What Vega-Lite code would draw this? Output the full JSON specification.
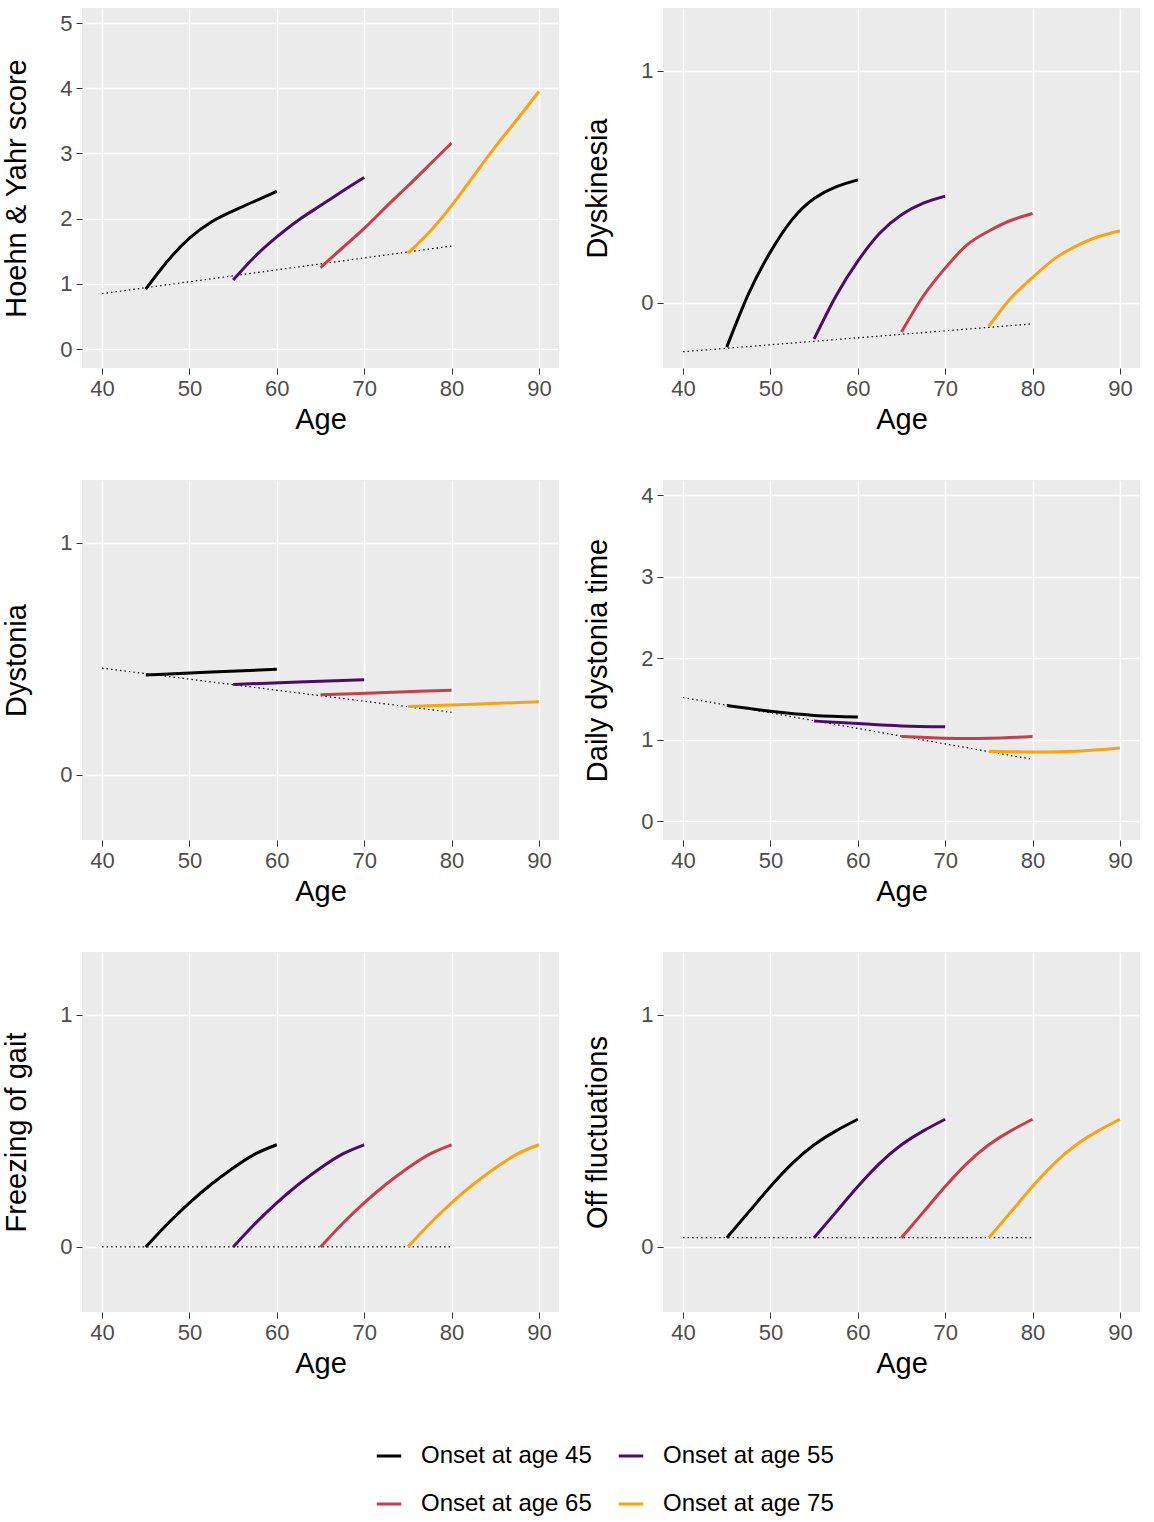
{
  "$schema": "https://vega.github.io/schema/vega-lite/v6.json",
  "background": "white",
  "padding": {"left": 2, "top": 8, "right": 10, "bottom": 5},
  "datasets": {
    "rows": [
      {"panel": "hy", "series": "base", "age": 40, "value": 0.85},
      {"panel": "hy", "series": "base", "age": 80, "value": 1.58},
      {"panel": "hy", "series": "Onset at age 45", "age": 45, "value": 0.92},
      {"panel": "hy", "series": "Onset at age 45", "age": 47.5, "value": 1.35},
      {"panel": "hy", "series": "Onset at age 45", "age": 50, "value": 1.7},
      {"panel": "hy", "series": "Onset at age 45", "age": 52.5, "value": 1.95},
      {"panel": "hy", "series": "Onset at age 45", "age": 55, "value": 2.12},
      {"panel": "hy", "series": "Onset at age 45", "age": 57.5, "value": 2.27},
      {"panel": "hy", "series": "Onset at age 45", "age": 60, "value": 2.42},
      {"panel": "hy", "series": "Onset at age 55", "age": 55, "value": 1.06},
      {"panel": "hy", "series": "Onset at age 55", "age": 57.5, "value": 1.42},
      {"panel": "hy", "series": "Onset at age 55", "age": 60, "value": 1.72},
      {"panel": "hy", "series": "Onset at age 55", "age": 62.5, "value": 1.98},
      {"panel": "hy", "series": "Onset at age 55", "age": 65, "value": 2.2},
      {"panel": "hy", "series": "Onset at age 55", "age": 67.5, "value": 2.42},
      {"panel": "hy", "series": "Onset at age 55", "age": 70, "value": 2.63},
      {"panel": "hy", "series": "Onset at age 65", "age": 65, "value": 1.25},
      {"panel": "hy", "series": "Onset at age 65", "age": 67.5, "value": 1.55},
      {"panel": "hy", "series": "Onset at age 65", "age": 70, "value": 1.85},
      {"panel": "hy", "series": "Onset at age 65", "age": 72.5, "value": 2.18},
      {"panel": "hy", "series": "Onset at age 65", "age": 75, "value": 2.5},
      {"panel": "hy", "series": "Onset at age 65", "age": 77.5, "value": 2.83},
      {"panel": "hy", "series": "Onset at age 65", "age": 80, "value": 3.16},
      {"panel": "hy", "series": "Onset at age 75", "age": 75, "value": 1.47},
      {"panel": "hy", "series": "Onset at age 75", "age": 77.5, "value": 1.8},
      {"panel": "hy", "series": "Onset at age 75", "age": 80, "value": 2.2},
      {"panel": "hy", "series": "Onset at age 75", "age": 82.5, "value": 2.65},
      {"panel": "hy", "series": "Onset at age 75", "age": 85, "value": 3.1},
      {"panel": "hy", "series": "Onset at age 75", "age": 87.5, "value": 3.52},
      {"panel": "hy", "series": "Onset at age 75", "age": 90, "value": 3.95},

      {"panel": "dysk", "series": "base", "age": 40, "value": -0.21},
      {"panel": "dysk", "series": "base", "age": 80, "value": -0.09},
      {"panel": "dysk", "series": "Onset at age 45", "age": 45, "value": -0.19},
      {"panel": "dysk", "series": "Onset at age 45", "age": 47.5, "value": 0.04},
      {"panel": "dysk", "series": "Onset at age 45", "age": 50, "value": 0.22},
      {"panel": "dysk", "series": "Onset at age 45", "age": 52.5, "value": 0.36},
      {"panel": "dysk", "series": "Onset at age 45", "age": 55, "value": 0.45},
      {"panel": "dysk", "series": "Onset at age 45", "age": 57.5, "value": 0.5},
      {"panel": "dysk", "series": "Onset at age 45", "age": 60, "value": 0.53},
      {"panel": "dysk", "series": "Onset at age 55", "age": 55, "value": -0.155},
      {"panel": "dysk", "series": "Onset at age 55", "age": 57.5, "value": 0.03},
      {"panel": "dysk", "series": "Onset at age 55", "age": 60, "value": 0.18},
      {"panel": "dysk", "series": "Onset at age 55", "age": 62.5, "value": 0.3},
      {"panel": "dysk", "series": "Onset at age 55", "age": 65, "value": 0.38},
      {"panel": "dysk", "series": "Onset at age 55", "age": 67.5, "value": 0.43},
      {"panel": "dysk", "series": "Onset at age 55", "age": 70, "value": 0.46},
      {"panel": "dysk", "series": "Onset at age 65", "age": 65, "value": -0.125},
      {"panel": "dysk", "series": "Onset at age 65", "age": 67.5, "value": 0.03},
      {"panel": "dysk", "series": "Onset at age 65", "age": 70, "value": 0.15},
      {"panel": "dysk", "series": "Onset at age 65", "age": 72.5, "value": 0.25},
      {"panel": "dysk", "series": "Onset at age 65", "age": 75, "value": 0.31},
      {"panel": "dysk", "series": "Onset at age 65", "age": 77.5, "value": 0.355},
      {"panel": "dysk", "series": "Onset at age 65", "age": 80, "value": 0.385},
      {"panel": "dysk", "series": "Onset at age 75", "age": 75, "value": -0.1},
      {"panel": "dysk", "series": "Onset at age 75", "age": 77.5, "value": 0.02},
      {"panel": "dysk", "series": "Onset at age 75", "age": 80, "value": 0.11},
      {"panel": "dysk", "series": "Onset at age 75", "age": 82.5, "value": 0.19},
      {"panel": "dysk", "series": "Onset at age 75", "age": 85, "value": 0.245},
      {"panel": "dysk", "series": "Onset at age 75", "age": 87.5, "value": 0.285},
      {"panel": "dysk", "series": "Onset at age 75", "age": 90, "value": 0.31},

      {"panel": "dyst", "series": "base", "age": 40, "value": 0.46},
      {"panel": "dyst", "series": "base", "age": 80, "value": 0.27},
      {"panel": "dyst", "series": "Onset at age 45", "age": 45, "value": 0.43},
      {"panel": "dyst", "series": "Onset at age 45", "age": 52.5, "value": 0.443},
      {"panel": "dyst", "series": "Onset at age 45", "age": 60, "value": 0.455},
      {"panel": "dyst", "series": "Onset at age 55", "age": 55, "value": 0.39},
      {"panel": "dyst", "series": "Onset at age 55", "age": 62.5, "value": 0.4},
      {"panel": "dyst", "series": "Onset at age 55", "age": 70, "value": 0.41},
      {"panel": "dyst", "series": "Onset at age 65", "age": 65, "value": 0.345},
      {"panel": "dyst", "series": "Onset at age 65", "age": 72.5, "value": 0.355},
      {"panel": "dyst", "series": "Onset at age 65", "age": 80, "value": 0.365},
      {"panel": "dyst", "series": "Onset at age 75", "age": 75, "value": 0.295},
      {"panel": "dyst", "series": "Onset at age 75", "age": 82.5, "value": 0.305},
      {"panel": "dyst", "series": "Onset at age 75", "age": 90, "value": 0.315},

      {"panel": "ddt", "series": "base", "age": 40, "value": 1.52},
      {"panel": "ddt", "series": "base", "age": 80, "value": 0.76},
      {"panel": "ddt", "series": "Onset at age 45", "age": 45, "value": 1.42},
      {"panel": "ddt", "series": "Onset at age 45", "age": 50, "value": 1.35},
      {"panel": "ddt", "series": "Onset at age 45", "age": 55, "value": 1.3},
      {"panel": "ddt", "series": "Onset at age 45", "age": 60, "value": 1.28},
      {"panel": "ddt", "series": "Onset at age 55", "age": 55, "value": 1.23},
      {"panel": "ddt", "series": "Onset at age 55", "age": 60, "value": 1.2},
      {"panel": "ddt", "series": "Onset at age 55", "age": 65, "value": 1.17},
      {"panel": "ddt", "series": "Onset at age 55", "age": 70, "value": 1.16},
      {"panel": "ddt", "series": "Onset at age 65", "age": 65, "value": 1.04},
      {"panel": "ddt", "series": "Onset at age 65", "age": 70, "value": 1.02},
      {"panel": "ddt", "series": "Onset at age 65", "age": 75, "value": 1.02},
      {"panel": "ddt", "series": "Onset at age 65", "age": 80, "value": 1.04},
      {"panel": "ddt", "series": "Onset at age 75", "age": 75, "value": 0.86},
      {"panel": "ddt", "series": "Onset at age 75", "age": 80, "value": 0.85},
      {"panel": "ddt", "series": "Onset at age 75", "age": 85, "value": 0.86},
      {"panel": "ddt", "series": "Onset at age 75", "age": 90, "value": 0.9},

      {"panel": "fog", "series": "base", "age": 40, "value": 0},
      {"panel": "fog", "series": "base", "age": 80, "value": 0},
      {"panel": "fog", "series": "Onset at age 45", "age": 45, "value": 0},
      {"panel": "fog", "series": "Onset at age 45", "age": 47.5, "value": 0.1},
      {"panel": "fog", "series": "Onset at age 45", "age": 50, "value": 0.19},
      {"panel": "fog", "series": "Onset at age 45", "age": 52.5, "value": 0.27},
      {"panel": "fog", "series": "Onset at age 45", "age": 55, "value": 0.34},
      {"panel": "fog", "series": "Onset at age 45", "age": 57.5, "value": 0.4},
      {"panel": "fog", "series": "Onset at age 45", "age": 60, "value": 0.44},
      {"panel": "fog", "series": "Onset at age 55", "age": 55, "value": 0},
      {"panel": "fog", "series": "Onset at age 55", "age": 57.5, "value": 0.1},
      {"panel": "fog", "series": "Onset at age 55", "age": 60, "value": 0.19},
      {"panel": "fog", "series": "Onset at age 55", "age": 62.5, "value": 0.27},
      {"panel": "fog", "series": "Onset at age 55", "age": 65, "value": 0.34},
      {"panel": "fog", "series": "Onset at age 55", "age": 67.5, "value": 0.4},
      {"panel": "fog", "series": "Onset at age 55", "age": 70, "value": 0.44},
      {"panel": "fog", "series": "Onset at age 65", "age": 65, "value": 0},
      {"panel": "fog", "series": "Onset at age 65", "age": 67.5, "value": 0.1},
      {"panel": "fog", "series": "Onset at age 65", "age": 70, "value": 0.19},
      {"panel": "fog", "series": "Onset at age 65", "age": 72.5, "value": 0.27},
      {"panel": "fog", "series": "Onset at age 65", "age": 75, "value": 0.34},
      {"panel": "fog", "series": "Onset at age 65", "age": 77.5, "value": 0.4},
      {"panel": "fog", "series": "Onset at age 65", "age": 80, "value": 0.44},
      {"panel": "fog", "series": "Onset at age 75", "age": 75, "value": 0},
      {"panel": "fog", "series": "Onset at age 75", "age": 77.5, "value": 0.1},
      {"panel": "fog", "series": "Onset at age 75", "age": 80, "value": 0.19},
      {"panel": "fog", "series": "Onset at age 75", "age": 82.5, "value": 0.27},
      {"panel": "fog", "series": "Onset at age 75", "age": 85, "value": 0.34},
      {"panel": "fog", "series": "Onset at age 75", "age": 87.5, "value": 0.4},
      {"panel": "fog", "series": "Onset at age 75", "age": 90, "value": 0.44},

      {"panel": "off", "series": "base", "age": 40, "value": 0.04},
      {"panel": "off", "series": "base", "age": 80, "value": 0.04},
      {"panel": "off", "series": "Onset at age 45", "age": 45, "value": 0.04},
      {"panel": "off", "series": "Onset at age 45", "age": 47.5, "value": 0.15},
      {"panel": "off", "series": "Onset at age 45", "age": 50, "value": 0.26},
      {"panel": "off", "series": "Onset at age 45", "age": 52.5, "value": 0.36},
      {"panel": "off", "series": "Onset at age 45", "age": 55, "value": 0.44},
      {"panel": "off", "series": "Onset at age 45", "age": 57.5, "value": 0.5},
      {"panel": "off", "series": "Onset at age 45", "age": 60, "value": 0.55},
      {"panel": "off", "series": "Onset at age 55", "age": 55, "value": 0.04},
      {"panel": "off", "series": "Onset at age 55", "age": 57.5, "value": 0.15},
      {"panel": "off", "series": "Onset at age 55", "age": 60, "value": 0.26},
      {"panel": "off", "series": "Onset at age 55", "age": 62.5, "value": 0.36},
      {"panel": "off", "series": "Onset at age 55", "age": 65, "value": 0.44},
      {"panel": "off", "series": "Onset at age 55", "age": 67.5, "value": 0.5},
      {"panel": "off", "series": "Onset at age 55", "age": 70, "value": 0.55},
      {"panel": "off", "series": "Onset at age 65", "age": 65, "value": 0.04},
      {"panel": "off", "series": "Onset at age 65", "age": 67.5, "value": 0.15},
      {"panel": "off", "series": "Onset at age 65", "age": 70, "value": 0.26},
      {"panel": "off", "series": "Onset at age 65", "age": 72.5, "value": 0.36},
      {"panel": "off", "series": "Onset at age 65", "age": 75, "value": 0.44},
      {"panel": "off", "series": "Onset at age 65", "age": 77.5, "value": 0.5},
      {"panel": "off", "series": "Onset at age 65", "age": 80, "value": 0.55},
      {"panel": "off", "series": "Onset at age 75", "age": 75, "value": 0.04},
      {"panel": "off", "series": "Onset at age 75", "age": 77.5, "value": 0.15},
      {"panel": "off", "series": "Onset at age 75", "age": 80, "value": 0.26},
      {"panel": "off", "series": "Onset at age 75", "age": 82.5, "value": 0.36},
      {"panel": "off", "series": "Onset at age 75", "age": 85, "value": 0.44},
      {"panel": "off", "series": "Onset at age 75", "age": 87.5, "value": 0.5},
      {"panel": "off", "series": "Onset at age 75", "age": 90, "value": 0.55}
    ]
  },
  "data": {"name": "rows"},
  "spacing": 46,
  "vconcat": [
    {"spacing": 24, "hconcat": [
      {"width": 477, "height": 360, "transform": [{"filter": "datum.panel == 'hy'"}],
       "layer": [
        {"transform": [{"filter": "datum.series == 'base'"}], "mark": {"type": "line", "color": "black", "strokeWidth": 1.2, "strokeDash": [1.5, 3]},
         "encoding": {"x": {"field": "age", "type": "quantitative", "scale": {"domain": [37.7, 92.3], "nice": false, "zero": false}, "axis": {"values": [40, 50, 60, 70, 80, 90], "title": "Age"}},
                      "y": {"field": "value", "type": "quantitative", "scale": {"domain": [-0.29, 5.23], "nice": false, "zero": false}, "axis": {"values": [0, 1, 2, 3, 4, 5], "title": "Hoehn & Yahr score"}}}},
        {"transform": [{"filter": "datum.series != 'base'"}], "mark": {"type": "line", "strokeWidth": 3, "interpolate": "natural"},
         "encoding": {"x": {"field": "age", "type": "quantitative"}, "y": {"field": "value", "type": "quantitative"}, "color": {"field": "series", "type": "nominal"}}}
       ]},
      {"width": 477, "height": 360, "transform": [{"filter": "datum.panel == 'dysk'"}],
       "layer": [
        {"transform": [{"filter": "datum.series == 'base'"}], "mark": {"type": "line", "color": "black", "strokeWidth": 1.2, "strokeDash": [1.5, 3]},
         "encoding": {"x": {"field": "age", "type": "quantitative", "scale": {"domain": [37.7, 92.3], "nice": false, "zero": false}, "axis": {"values": [40, 50, 60, 70, 80, 90], "title": "Age"}},
                      "y": {"field": "value", "type": "quantitative", "scale": {"domain": [-0.28, 1.27], "nice": false, "zero": false}, "axis": {"values": [0, 1], "title": "Dyskinesia"}}}},
        {"transform": [{"filter": "datum.series != 'base'"}], "mark": {"type": "line", "strokeWidth": 3, "interpolate": "natural"},
         "encoding": {"x": {"field": "age", "type": "quantitative"}, "y": {"field": "value", "type": "quantitative"}, "color": {"field": "series", "type": "nominal"}}}
       ]}
    ]},
    {"spacing": 24, "hconcat": [
      {"width": 477, "height": 360, "transform": [{"filter": "datum.panel == 'dyst'"}],
       "layer": [
        {"transform": [{"filter": "datum.series == 'base'"}], "mark": {"type": "line", "color": "black", "strokeWidth": 1.2, "strokeDash": [1.5, 3]},
         "encoding": {"x": {"field": "age", "type": "quantitative", "scale": {"domain": [37.7, 92.3], "nice": false, "zero": false}, "axis": {"values": [40, 50, 60, 70, 80, 90], "title": "Age"}},
                      "y": {"field": "value", "type": "quantitative", "scale": {"domain": [-0.28, 1.27], "nice": false, "zero": false}, "axis": {"values": [0, 1], "title": "Dystonia"}}}},
        {"transform": [{"filter": "datum.series != 'base'"}], "mark": {"type": "line", "strokeWidth": 3, "interpolate": "natural"},
         "encoding": {"x": {"field": "age", "type": "quantitative"}, "y": {"field": "value", "type": "quantitative"}, "color": {"field": "series", "type": "nominal"}}}
       ]},
      {"width": 477, "height": 360, "transform": [{"filter": "datum.panel == 'ddt'"}],
       "layer": [
        {"transform": [{"filter": "datum.series == 'base'"}], "mark": {"type": "line", "color": "black", "strokeWidth": 1.2, "strokeDash": [1.5, 3]},
         "encoding": {"x": {"field": "age", "type": "quantitative", "scale": {"domain": [37.7, 92.3], "nice": false, "zero": false}, "axis": {"values": [40, 50, 60, 70, 80, 90], "title": "Age"}},
                      "y": {"field": "value", "type": "quantitative", "scale": {"domain": [-0.23, 4.19], "nice": false, "zero": false}, "axis": {"values": [0, 1, 2, 3, 4], "title": "Daily dystonia time"}}}},
        {"transform": [{"filter": "datum.series != 'base'"}], "mark": {"type": "line", "strokeWidth": 3, "interpolate": "natural"},
         "encoding": {"x": {"field": "age", "type": "quantitative"}, "y": {"field": "value", "type": "quantitative"}, "color": {"field": "series", "type": "nominal"}}}
       ]}
    ]},
    {"spacing": 24, "hconcat": [
      {"width": 477, "height": 360, "transform": [{"filter": "datum.panel == 'fog'"}],
       "layer": [
        {"transform": [{"filter": "datum.series == 'base'"}], "mark": {"type": "line", "color": "black", "strokeWidth": 1.2, "strokeDash": [1.5, 3]},
         "encoding": {"x": {"field": "age", "type": "quantitative", "scale": {"domain": [37.7, 92.3], "nice": false, "zero": false}, "axis": {"values": [40, 50, 60, 70, 80, 90], "title": "Age"}},
                      "y": {"field": "value", "type": "quantitative", "scale": {"domain": [-0.28, 1.27], "nice": false, "zero": false}, "axis": {"values": [0, 1], "title": "Freezing of gait"}}}},
        {"transform": [{"filter": "datum.series != 'base'"}], "mark": {"type": "line", "strokeWidth": 3, "interpolate": "natural"},
         "encoding": {"x": {"field": "age", "type": "quantitative"}, "y": {"field": "value", "type": "quantitative"}, "color": {"field": "series", "type": "nominal"}}}
       ]},
      {"width": 477, "height": 360, "transform": [{"filter": "datum.panel == 'off'"}],
       "layer": [
        {"transform": [{"filter": "datum.series == 'base'"}], "mark": {"type": "line", "color": "black", "strokeWidth": 1.2, "strokeDash": [1.5, 3]},
         "encoding": {"x": {"field": "age", "type": "quantitative", "scale": {"domain": [37.7, 92.3], "nice": false, "zero": false}, "axis": {"values": [40, 50, 60, 70, 80, 90], "title": "Age"}},
                      "y": {"field": "value", "type": "quantitative", "scale": {"domain": [-0.28, 1.27], "nice": false, "zero": false}, "axis": {"values": [0, 1], "title": "Off fluctuations"}}}},
        {"transform": [{"filter": "datum.series != 'base'"}], "mark": {"type": "line", "strokeWidth": 3, "interpolate": "natural"},
         "encoding": {"x": {"field": "age", "type": "quantitative"}, "y": {"field": "value", "type": "quantitative"}, "color": {"field": "series", "type": "nominal"}}}
       ]}
    ]}
  ],
  "resolve": {"scale": {"color": "shared"}},
  "config": {
    "font": "Liberation Sans",
    "view": {"fill": "#EBEBEB", "stroke": null},
    "axis": {"gridColor": "white", "gridWidth": 1.6, "domain": false, "tickColor": "#333333", "tickSize": 6, "format": "d",
             "labelColor": "#4D4D4D", "labelFontSize": 22, "titleFontSize": 29, "titleFontWeight": "normal", "titleColor": "black", "labelPadding": 4},
    "axisY": {"titlePadding": 12, "minExtent": 39, "maxExtent": 39},
    "axisX": {"titlePadding": 6},
    "range": {"category": ["#000000", "#4B0C6B", "#C73E4C", "#F9A40F"]},
    "legend": {"orient": "none", "legendX": 293, "legendY": 1434, "columns": 2, "title": null, "labelFontSize": 24, "labelColor": "black", "symbolType": "stroke",
               "symbolStrokeWidth": 3, "symbolSize": 600, "rowPadding": 22, "columnPadding": 20, "labelOffset": 18, "labelLimit": 300, "direction": "horizontal"}
  }
}
